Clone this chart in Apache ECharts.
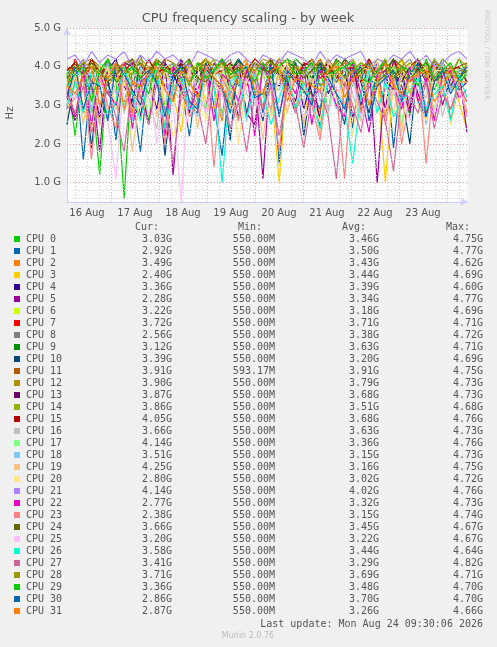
<!DOCTYPE html><html><head><meta charset="utf-8">
<script src="https://cdn.jsdelivr.net/npm/echarts@6/dist/echarts.min.js"></script>
<style>html,body{margin:0;padding:0;background:#f0f0f0}#c{width:497px;height:647px}</style></head>
<body><div id="c"></div><script>
const cpuNames = Array.from({length:32},(_,i)=>'CPU '+i);
const colors = ['#00CC00','#0066B3','#FF8000','#FFCC00','#330099','#990099','#CCFF00','#FF0000','#808080','#008F00','#00487D','#B35A00','#B38F00','#6B006B','#8FB300','#B30000','#BEBEBE','#80FF80','#80C9FF','#FFC080','#FFE680','#AA80FF','#EE00CC','#FF8080','#666600','#FFBFFF','#00FFCC','#CC6699','#999900','#00CC00','#0066B3','#FF8000'];
// values in tenths of GHz, two digits per point
const raw = [
"3822413512 4037064133 2640303936 4231384027 4139354029 4238364133 3940284237 3541303942 3638274140 3439374238",
"2941163840 3721403318 4036294135 2239413017 3842364028 4115393741 3329403638 2441373542 1939403127 4238344036",
"3527403825 4133392841 3637244039 3130413526 3839423334 2940373841 3228394135 3740303627 4138334029 3641343728",
"3341292440 3837412630 3940353323 4138312939 4036283741 3410393825 4033373930 4129363810 3742333927 4035383124",
"3038413627 3942353140 3729413834 2840363942 3338273940 3635414029 3741333839 4028364137 3439294138 3641383436",
"3226393718 4138304136 2539421237 4033294138 3627403911 4237342839 4124363840 2733411038 3935284036 4130373923",
"3640383139 4237354039 3341293840 3736424038 3439404137 3841364039 3542383740 3941373839 4036384239 3741354038",
"3442374039 3538413640 3942383741 3640393842 3741354038 3942383641 4037393842 3640413739 4238364037 3941383740",
"3739423440 3641383943 3540373942 3841363940 4235373941 3840424137 3941383640 4237393841 3640423839 4137394036",
"3841394037 4238403941 3742403839 4136403841 3942374038 4139384240 3741393842 4038413739 4240383941 3842403739",
"2537401938 3629414027 3839173641 3028403735 2142393426 4038354122 3739413325 4036283841 3933204137 3840263539",
"3941384240 3739414238 4037424139 3841403742 3941383940 4237413840 3942384137 4039423841 3740394238 4136394041",
"4038414239 3740384241 3942374038 4139424037 3841394240 3842413739 4038423941 3740384241 3942384037 4139384240",
"3338402835 4136393027 4038353142 2937403634 3941282540 3739363141 3327403835 4130373929 4236403327 3841353940",
"3640384137 3941364038 4237394036 3841394237 4036384139 3740424038 3941374036 4238394137 4039363841 3742403839",
"3941374238 4036394137 4238403941 3740423839 4137394240 3841393740 4238413739 4036423841 3739404238 4137394036",
"3035403325 3841283739 3224404136 2938354027 3641333039 2840373531 4136293840 3326413737 2839403532 4127363938",
"3440372841 3936304038 2741393533 4037293841 3226403739 3541382940 3634274139 3841303637 4025393834 2941373639",
"3237402934 4133382640 3735294139 3027404036 3339263841 3534402837 4131362940 3827394136 3330403725 3841343940",
"3039253740 2836411833 4027393431 4024373840 2933413621 3839284035 3722413937 3026404134 3823393741 2736403331",
"2838332435 4029373926 3340312228 3941263834 3920364033 2738412935 3126403037 2240393533 2837413026 3939253638",
"4243404441 4342444043 4144424341 4044434241 4344424043 4241444342 4044414342 4344404241 4342444143 4041434442",
"3427392538 3330412436 3839224037 2934402638 3631392241 3528373340 2539363027 4133233839 3529403137 2638393234",
"2932371638 3024402734 3839203536 2731401437 3326383929 3518402836 3021373411 3928364025 3720323915 3834293627",
"3740384139 3638404237 3941393840 4237363941 3840374139 4238364037 3941384240 3739413638 4240373941 3638403739",
"3133283630 2611383429 3720353105 3934283633 2430373227 3529333726 3134283530 3627323129 3433263730 2835313429",
"3036283935 2731403326 3739243437 2930393510 3638273433 2532382936 3124373330 1533392836 2731343729 3335263832",
"3328352330 3427183632 2536291533 3430203735 2431183329 3522353019 3234271136 3023353126 1333322836 2433293531",
"3839414038 3741393842 4037394138 3640423941 3738403942 4139374038 4238394137 3941403842 3739414038 4239383741",
"3538403139 4236384037 3341393840 3541373942 3839403641 3740423839 4135383940 4137363941 3840393542 3739413638",
"3240293635 2641383430 3936273840 3129413735 2838403233 4027393634 3041373329 3840263537 3931384127 3639333740",
"3533384030 3741293635 3840343139 3632403735 3038413433 3940313736 3534394032 3738303641 3533373839 3134403636"];
const curVals=['3.03G','2.92G','3.49G','2.40G','3.36G','2.28G','3.22G','3.72G','2.56G','3.12G','3.39G','3.91G','3.90G','3.87G','3.86G','4.05G','3.66G','4.14G','3.51G','4.25G','2.80G','4.14G','2.77G','2.38G','3.66G','3.20G','3.58G','3.41G','3.71G','3.36G','2.86G','2.87G'];
const minVals=Array(32).fill('550.00M'); minVals[11]='593.17M';
const avgVals=['3.46G','3.50G','3.43G','3.44G','3.39G','3.34G','3.18G','3.71G','3.38G','3.63G','3.20G','3.91G','3.79G','3.68G','3.51G','3.68G','3.63G','3.36G','3.15G','3.16G','3.02G','4.02G','3.32G','3.15G','3.45G','3.22G','3.44G','3.29G','3.69G','3.48G','3.70G','3.26G'];
const maxVals=['4.75G','4.77G','4.62G','4.69G','4.60G','4.77G','4.69G','4.71G','4.72G','4.71G','4.69G','4.75G','4.73G','4.73G','4.68G','4.76G','4.73G','4.76G','4.73G','4.75G','4.72G','4.76G','4.73G','4.74G','4.67G','4.67G','4.64G','4.82G','4.71G','4.70G','4.70G','4.66G'];
const dayLabels=['16 Aug','17 Aug','18 Aug','19 Aug','20 Aug','21 Aug','22 Aug','23 Aug'];
const yTicks=[1,2,3,4,5];

const X0=2, X1=202.5;
const series = raw.map((s,i)=>{
  const d=s.replace(/ /g,''); const v=[];
  for(let k=0;k+1<d.length;k+=2) v.push(+d.substr(k,2)/10);
  const step=(X1-0.5-X0)/(v.length-1);
  return {type:'line',name:cpuNames[i],data:v.map((y,k)=>[X0+k*step,y]),showSymbol:false,symbol:'none',
    lineStyle:{width:1.2,color:colors[i]},itemStyle:{color:colors[i]},animation:false,z:2};
});
const gl=[];
for(let h=6;h<X1;h+=6) if(h%24) gl.push({xAxis:h,lineStyle:{color:'#d0d0d0',type:[1,2],width:1}});
for(let h=24;h<X1;h+=24) gl.push({xAxis:h,lineStyle:{color:'#f0a0a0',type:[1,2],width:1}});
for(let y=0.6;y<5.01;y+=0.2){const r=Math.round(y*10)/10; gl.push({yAxis:r,lineStyle:{color:r%1===0?'#f0a0a0':'#d0d0d0',type:[1,2],width:1}});}
series.unshift({type:'line',data:[],markLine:{silent:true,symbol:'none',label:{show:false},data:gl,animation:false},z:1});

const mono='DejaVu Sans Mono', fs=10;
const g=[];
const cols=[172,275,379,483];
['Cur:','Min:','Avg:','Max:'].forEach((t,i)=>g.push({type:'text',style:{text:t,x:cols[i]-13,y:227,align:'right',verticalAlign:'middle',font:fs+'px "'+mono+'"',fill:'#555'}}));
cpuNames.forEach((n,i)=>{
  const y=239+i*12;
  g.push({type:'rect',shape:{x:14,y:y-3,width:6,height:6},style:{fill:colors[i]}});
  g.push({type:'text',style:{text:n,x:26,y:y,verticalAlign:'middle',font:fs+'px "'+mono+'"',fill:'#555'}});
  [curVals[i],minVals[i],avgVals[i],maxVals[i]].forEach((t,j)=>g.push({type:'text',style:{text:t,x:cols[j],y:y,align:'right',verticalAlign:'middle',font:fs+'px "'+mono+'"',fill:'#555'}}));
});
g.push({type:'text',style:{text:'Last update: Mon Aug 24 09:30:06 2026',x:483,y:624,align:'right',verticalAlign:'middle',font:fs+'px "'+mono+'"',fill:'#555'}});
g.push({type:'text',style:{text:'Munin 2.0.76',x:248,y:636,align:'center',verticalAlign:'middle',font:'8px "DejaVu Sans"',fill:'#bbb'}});
g.push({type:'text',style:{text:'CPU frequency scaling - by week',x:248,y:19,align:'center',verticalAlign:'middle',font:'13px "DejaVu Sans"',fill:'#555'}});
g.push({type:'text',rotation:Math.PI/2,x:10,y:113,style:{text:'Hz',align:'center',verticalAlign:'middle',font:'10px "DejaVu Sans"',fill:'#555'}});
g.push({type:'text',rotation:-Math.PI/2,x:487,y:55,style:{text:'RRDTOOL / TOBI OETIKER',align:'center',verticalAlign:'middle',font:'7px "DejaVu Sans"',fill:'#ccc'}});

const chart=echarts.init(document.getElementById('c'));
chart.setOption({
  backgroundColor:'#f0f0f0',animation:false,
  grid:{left:67,right:29,top:28,bottom:445,show:true,backgroundColor:'#fff',borderWidth:0},
  xAxis:{type:'value',min:X0,max:X1,splitLine:{show:false},
    axisLine:{lineStyle:{color:'#ccccff'},symbol:['none','arrow'],symbolSize:[6,8]},
    axisTick:{show:false},
    axisLabel:{customValues:dayLabels.map((_,i)=>12+24*i),formatter:v=>dayLabels[Math.round((v-12)/24)],color:'#555',fontSize:10,fontFamily:'DejaVu Sans',margin:6}},
  yAxis:{type:'value',min:0.5,max:5,splitLine:{show:false},
    axisLine:{show:true,lineStyle:{color:'#ccccff'},symbol:['none','arrow'],symbolSize:[6,8]},
    axisTick:{show:false},
    axisLabel:{customValues:yTicks,formatter:v=>v.toFixed(1)+' G',color:'#555',fontSize:10,fontFamily:'DejaVu Sans',margin:6}},
  graphic:g,
  series:series
});
</script></body></html>
